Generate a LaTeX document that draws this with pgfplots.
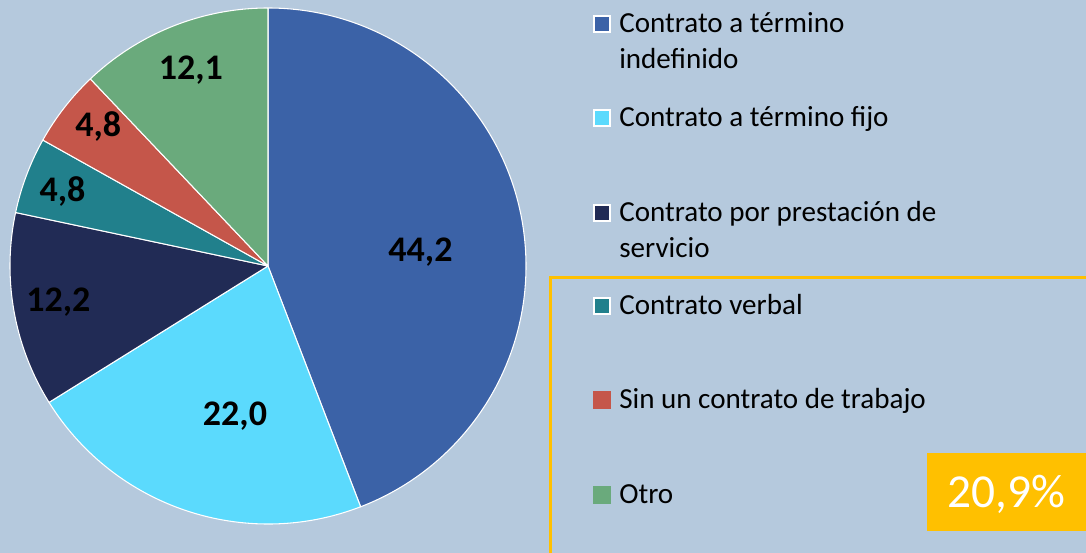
\documentclass[border=0pt]{standalone}
\usepackage{pgfplots}
\pgfplotsset{compat=1.18}
\usepackage{fontspec}
\setmainfont{Carlito}
\definecolor{bg}{HTML}{B5C9DD}
\definecolor{cA}{HTML}{3B62A7}
\definecolor{cB}{HTML}{5BDAFD}
\definecolor{cC}{HTML}{212B55}
\definecolor{cD}{HTML}{21808C}
\definecolor{cE}{HTML}{C5564A}
\definecolor{cF}{HTML}{6AAA7C}
\definecolor{yel}{HTML}{FFC000}
% pie geometry (axis units = pixels of the reference)
\def\cx{268}\def\cy{287}\def\R{258}
\def\total{100.1}
\def\cum{0}
\newcommand\slice[2]{%
  \pgfmathsetmacro\sa{90-\cum/\total*360}%
  \pgfmathsetmacro\cumnew{\cum+#1}%
  \pgfmathsetmacro\sb{90-\cumnew/\total*360}%
  \pgfmathsetmacro\xs{\cx+\R*cos(\sa)}%
  \pgfmathsetmacro\ys{\cy+\R*sin(\sa)}%
  \global\let\cum\cumnew
  \edef\temp{\noexpand\fill[#2, draw=white, line width=0.8pt, line join=round]
    (axis cs:\cx,\cy) -- (axis cs:\xs,\ys)
    arc[start angle=\sa, end angle=\sb, radius=193.5pt] -- cycle;}%
  \temp}
\newcommand\legsq[3]{% color, ypx center, border
  \filldraw[fill=#1, draw=#3, line width=0.8pt]
    (axis cs:594,{553-#2-8}) rectangle (axis cs:610,{553-#2+8});}
\newcommand\legtx[2]{% baseline ypx, text
  \node[anchor=base west, inner sep=0pt, font=\fontsize{21.8}{26}\selectfont]
    at (axis cs:619,{553-#1}) {#2};}
\begin{document}
\begin{tikzpicture}
\begin{axis}[
  scale only axis, width=814.5pt, height=414.75pt,
  xmin=0, xmax=1086, ymin=0, ymax=553,
  hide axis, clip=true,
]
\fill[bg] (axis cs:-5,-5) rectangle (axis cs:1091,558);
% data: percentages
\slice{44.2}{cA}
\slice{22.0}{cB}
\slice{12.2}{cC}
\slice{4.8}{cD}
\slice{4.8}{cE}
\slice{12.1}{cF}
% data labels
\begin{scope}[every node/.style={anchor=base, font=\bfseries\fontsize{27}{32}\selectfont, inner sep=0pt}]
\node at (axis cs:420.5,291.3) {44,2};
\node at (axis cs:235,127.3) {22,0};
\node at (axis cs:58.3,241.3) {12,2};
\node at (axis cs:62.5,351.3) {4,8};
\node at (axis cs:98.3,416.3) {4,8};
\node at (axis cs:190.8,473.7) {12,1};
\end{scope}
% frame
\draw[yel, line width=2.25pt] (axis cs:550.5,-10) -- (axis cs:550.5,275) -- (axis cs:1100,275);
% legend
\legsq{cA}{24}{white}
\legsq{cB}{118}{white}
\legsq{cC}{213}{white}
\legsq{cD}{306}{white}
\legsq{cE}{400}{cE}
\legsq{cF}{495}{cF}
\legtx{33}{Contrato a término}
\legtx{69}{indefinido}
\legtx{127}{Contrato a término fijo}
\legtx{222}{Contrato por prestación de}
\legtx{258}{servicio}
\legtx{315}{Contrato verbal}
\legtx{409}{Sin un contrato de trabajo}
\legtx{504}{Otro}
% highlighted value
\fill[yel] (axis cs:927,22) rectangle (axis cs:1095,100);
\node[anchor=base, inner sep=0pt, text=white, font=\fontsize{35.5}{42}\selectfont]
  at (axis cs:1006.5,45) {20,9\%};
\end{axis}
\pgfresetboundingbox
\path[use as bounding box] (current axis.south west) rectangle (current axis.north east);
\end{tikzpicture}
\end{document}
